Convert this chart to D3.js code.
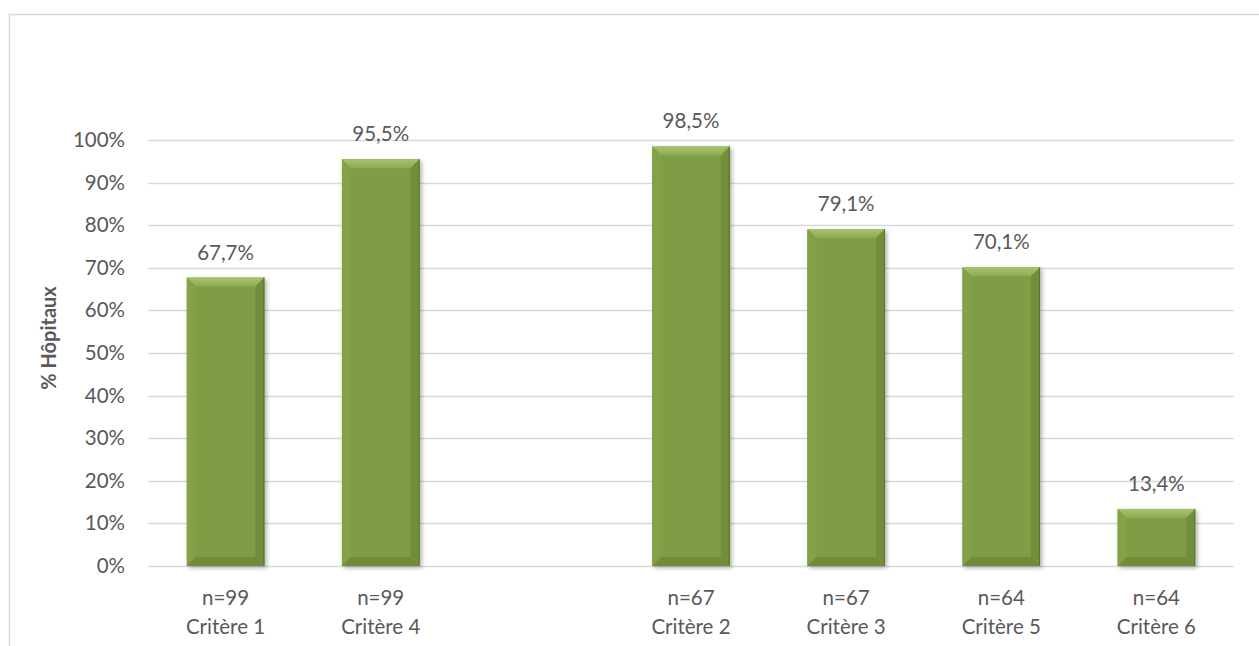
<!DOCTYPE html>
<html>
<head>
<meta charset="utf-8">
<script src="https://cdn.jsdelivr.net/npm/d3@7"></script>
<style>
  html, body { margin: 0; padding: 0; background: #fff; }
  svg { display: block; }
  text { font-family: Lato, "Liberation Sans", sans-serif; fill: #595959; }
</style>
</head>
<body>
<svg id="chart" width="1259" height="646"></svg>
<script>
// Criteria shown on the x axis; the empty entry leaves a gap between the two groups
const categories = ["Critère 1", "Critère 4", "", "Critère 2", "Critère 3", "Critère 5", "Critère 6"];
const sampleSizes = [99, 99, null, 67, 67, 64, 64];
const values = [67.7, 95.5, null, 98.5, 79.1, 70.1, 13.4];
const yTicks = [0, 10, 20, 30, 40, 50, 60, 70, 80, 90, 100];
const yTitle = "% Hôpitaux";

const svg = d3.select("#chart");
const margin = { left: 148, right: 25, top: 140, bottom: 80 };
const width = 1259, height = 646;
const fontSize = 20.5;

// Outer chart frame (top and left edges visible)
svg.append("path")
  .attr("d", "M9.5,646 V14.5 H1259")
  .attr("fill", "none")
  .attr("stroke", "#d9d9d9")
  .attr("stroke-width", 1.5);

const x = d3.scaleBand()
  .domain(d3.range(categories.length))
  .range([margin.left, width - margin.right])
  .paddingInner(0.5)
  .paddingOuter(0.25);

const y = d3.scaleLinear()
  .domain([0, 100])
  .range([height - margin.bottom, margin.top]);

// Gridlines
svg.append("g")
  .selectAll("line")
  .data(yTicks)
  .join("line")
  .attr("x1", margin.left)
  .attr("x2", width - margin.right)
  .attr("y1", d => Math.round(y(d)) + 0.5)
  .attr("y2", d => Math.round(y(d)) + 0.5)
  .attr("stroke", "#d9d9d9")
  .attr("stroke-width", 1.3);

// Y axis labels
const yAxis = d3.axisLeft(y)
  .tickValues(yTicks)
  .tickFormat(d => d + "%")
  .tickSize(0)
  .tickPadding(23);
const gy = svg.append("g")
  .attr("transform", `translate(${margin.left},0)`)
  .call(yAxis);
gy.select(".domain").remove();
gy.selectAll("text")
  .style("font-size", fontSize + "px")
  .style("font-family", "Lato, sans-serif")
  .attr("fill", "#595959");

// Y axis title
svg.append("text")
  .attr("transform", "translate(56,338) rotate(-90)")
  .attr("text-anchor", "middle")
  .style("font-size", "20px")
  .style("font-weight", "bold")
  .text(yTitle);

// Defs: shadow and bevel gradients
const defs = svg.append("defs");
const shadow = defs.append("filter").attr("id", "shadow")
  .attr("x", "-20%").attr("y", "-10%").attr("width", "140%").attr("height", "130%");
shadow.append("feDropShadow")
  .attr("dx", 2).attr("dy", 2).attr("stdDeviation", 2)
  .attr("flood-color", "#000").attr("flood-opacity", 0.3);

const topGrad = defs.append("linearGradient").attr("id", "topFacet")
  .attr("x1", 0).attr("y1", 0).attr("x2", 0).attr("y2", 1);
topGrad.append("stop").attr("offset", 0).attr("stop-color", "#a6c46c");
topGrad.append("stop").attr("offset", 1).attr("stop-color", "#8dab54");

const bars = values.map((v, i) => ({ v, i })).filter(d => d.v !== null);

const barG = svg.append("g")
  .selectAll("g")
  .data(bars)
  .join("g")
  .attr("filter", "url(#shadow)");

barG.each(function (d) {
  const g = d3.select(this);
  const x0 = x(d.i), w = x.bandwidth();
  const y0 = y(d.v), y1 = y(0);
  const h = y1 - y0;
  const b = Math.min(9, h / 2.5);
  const x1 = x0 + w;
  // base face
  g.append("rect")
    .attr("x", x0).attr("y", y0).attr("width", w).attr("height", h)
    .attr("fill", "#7f9d44");
  // top facet
  g.append("path")
    .attr("d", `M${x0},${y0} L${x1},${y0} L${x1 - b},${y0 + b} L${x0 + b},${y0 + b} Z`)
    .attr("fill", "url(#topFacet)");
  // left facet
  g.append("path")
    .attr("d", `M${x0},${y0} L${x0 + b},${y0 + b} L${x0 + b},${y1 - b} L${x0},${y1} Z`)
    .attr("fill", "#83a147");
  // right facet
  g.append("path")
    .attr("d", `M${x1},${y0} L${x1},${y1} L${x1 - b},${y1 - b} L${x1 - b},${y0 + b} Z`)
    .attr("fill", "#718e3a");
  // bottom facet
  g.append("path")
    .attr("d", `M${x0},${y1} L${x0 + b},${y1 - b} L${x1 - b},${y1 - b} L${x1},${y1} Z`)
    .attr("fill", "#708c39");
  // dark outline on the right edge
  g.append("line")
    .attr("x1", x1 - 0.5).attr("x2", x1 - 0.5).attr("y1", y0).attr("y2", y1)
    .attr("stroke", "#5a742d").attr("stroke-width", 1);
});

// Value labels
svg.append("g")
  .selectAll("text")
  .data(bars)
  .join("text")
  .attr("x", d => x(d.i) + x.bandwidth() / 2)
  .attr("y", d => y(d.v) - 18)
  .attr("text-anchor", "middle")
  .style("font-size", fontSize + "px")
  .text(d => d.v.toFixed(1).replace(".", ",") + "%");

// Category labels: sample size on the first line, criterion on the second
const catG = svg.append("g")
  .selectAll("text")
  .data(categories.map((c, i) => ({ c, i, n: sampleSizes[i] })).filter(d => d.c !== ""))
  .join("text")
  .attr("text-anchor", "middle")
  .style("font-size", fontSize + "px");
catG.append("tspan")
  .attr("x", d => x(d.i) + x.bandwidth() / 2)
  .attr("y", 605)
  .text(d => "n=" + d.n);
catG.append("tspan")
  .attr("x", d => x(d.i) + x.bandwidth() / 2)
  .attr("y", 634)
  .text(d => d.c);
</script>
</body>
</html>
